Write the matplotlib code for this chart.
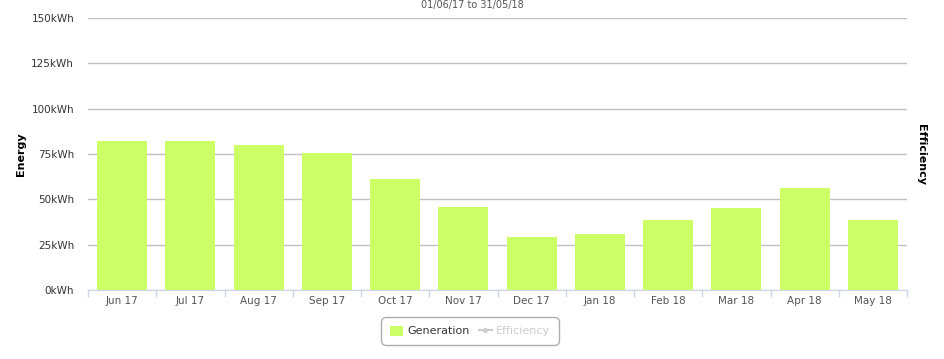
import matplotlib
matplotlib.use("Agg")
import matplotlib.pyplot as plt
from matplotlib.lines import Line2D
from matplotlib.patches import Patch
import numpy as np

months = ["Jun 17", "Jul 17", "Aug 17", "Sep 17", "Oct 17", "Nov 17",
          "Dec 17", "Jan 18", "Feb 18", "Mar 18", "Apr 18", "May 18"]
generation = [82.2, 82.2, 80.0, 75.6, 61.2, 45.8, 29.2, 30.9, 38.6, 45.2, 56.3, 38.6]
yticks = [0, 25, 50, 75, 100, 125, 150]
ytick_labels = [f"{v}kWh" for v in yticks]

fig = plt.figure(figsize=(9.45, 3.59), dpi=100)
ax = fig.add_axes([88/945, 1-290/359, (907-88)/945, (290-18)/359])

x = np.arange(len(months))
ax.bar(x, generation, width=0.73, color="#ccff66", zorder=2)
ax.set_xlim(-0.5, len(months)-0.5)
ax.set_ylim(0, 150)
ax.set_yticks(yticks)
ax.set_yticklabels(ytick_labels, fontsize=7.5, color="#333333")
ax.yaxis.grid(True, color="#c0c0c0", linewidth=1, zorder=0)
ax.tick_params(axis="y", length=0, pad=10)

ax.set_xticks(x)
ax.set_xticklabels(months, fontsize=7.5, color="#555555")
ax.set_xticks(np.arange(-0.5, len(months)), minor=True)
ax.tick_params(axis="x", which="major", length=0, pad=4)
ax.tick_params(axis="x", which="minor", length=5, color="#ccd6eb", width=1)

for s in ["top", "right", "left"]:
    ax.spines[s].set_visible(False)
ax.spines["bottom"].set_color("#ccd6eb")

ax.set_ylabel("Energy", fontsize=8, fontweight="bold", labelpad=4)
fig.text(921/945, 1-155/359, "Efficiency", rotation=270, fontsize=8,
         fontweight="bold", ha="center", va="center")

fig.text(0.5, 1.0, "01/06/17 to 31/05/18", ha="center", va="top",
         fontsize=7, color="#555555")

handles = [Patch(facecolor="#ccff66", edgecolor="none"),
           Line2D([0], [0], color="#cccccc", marker="o", markersize=2.5, linewidth=1.5)]
leg = fig.legend(handles, ["Generation", "Efficiency"], loc="center",
                 bbox_to_anchor=(470/945, 1-331/359), ncol=2, fontsize=8,
                 frameon=True, handlelength=1.2, handleheight=1.0,
                 columnspacing=0.8, handletextpad=0.4, borderpad=0.5)
leg.get_frame().set_edgecolor("#999999")
leg.get_frame().set_linewidth(1)
leg.get_frame().set_boxstyle("round,pad=0.3,rounding_size=0.5")
texts = leg.get_texts()
texts[0].set_color("#333333")
texts[1].set_color("#cccccc")

fig.savefig("out.png", dpi=100)
